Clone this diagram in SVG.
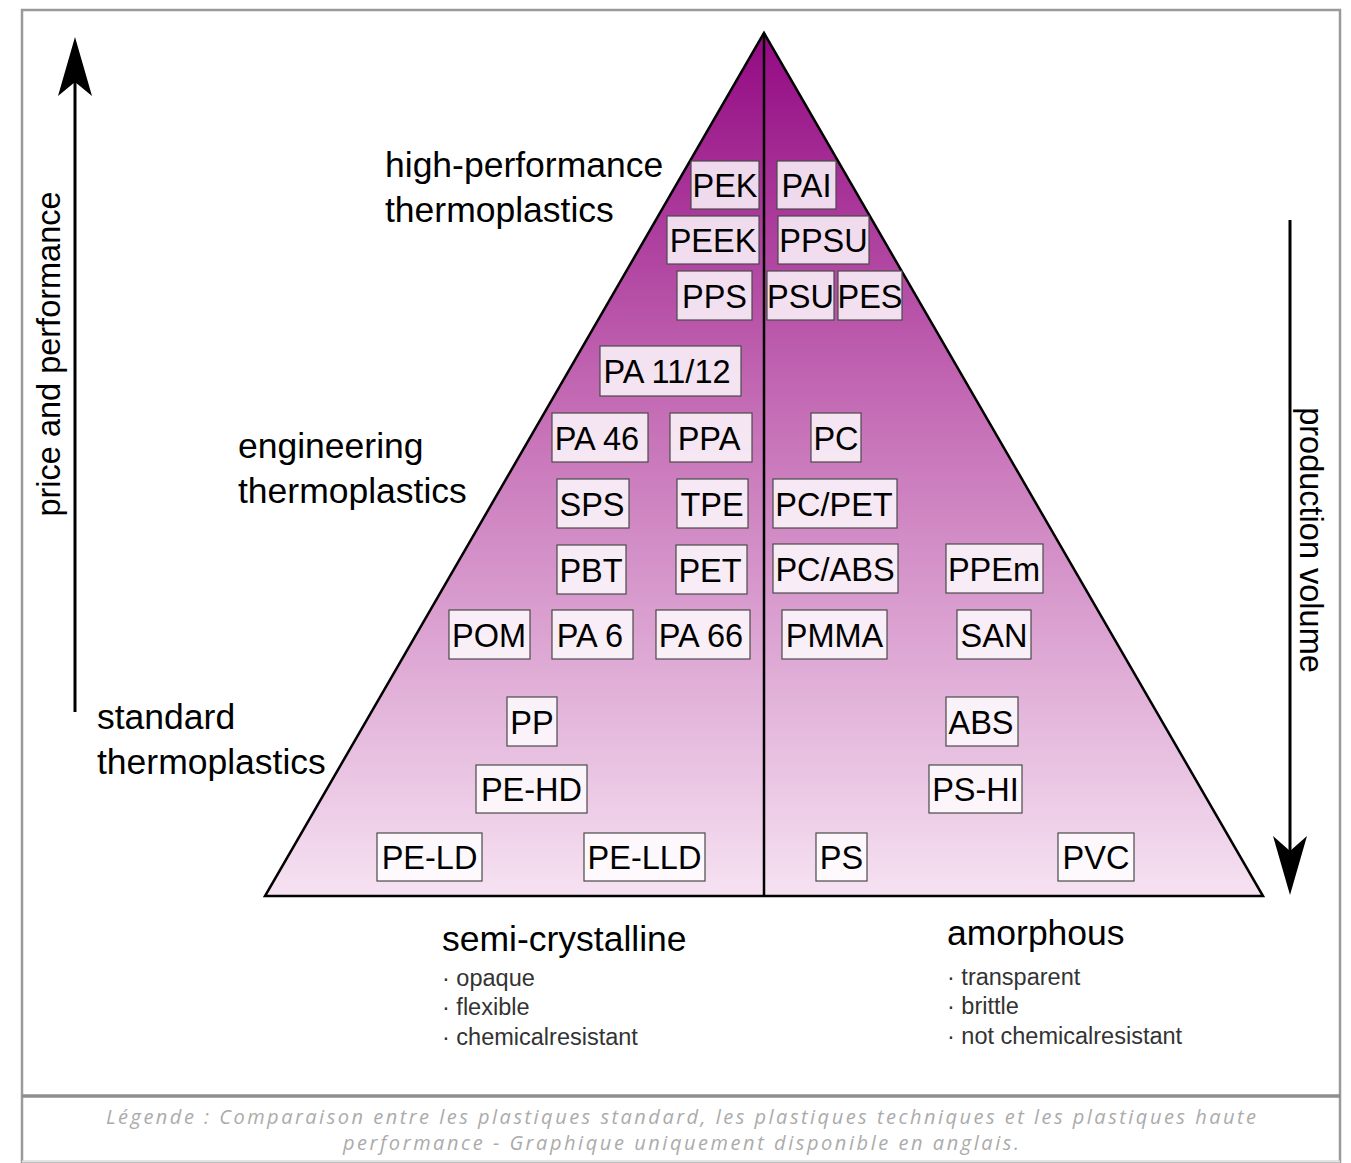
<svg xmlns="http://www.w3.org/2000/svg" width="1351" height="1163" viewBox="0 0 1351 1163">
<defs>
<linearGradient id="tri" x1="0" y1="33" x2="0" y2="896" gradientUnits="userSpaceOnUse">
<stop offset="0" stop-color="#930983"/>
<stop offset="0.45" stop-color="#c670b7"/>
<stop offset="1" stop-color="#f6e2f2"/>
</linearGradient>
<style>
.box rect{fill:#ffffff;fill-opacity:0.82;stroke:#4a4a4a;stroke-width:1.2}
.box text{font-family:"Liberation Sans",Arial,sans-serif;font-size:32.5px;fill:#000;text-anchor:middle}
.big{font-family:"Liberation Sans",Arial,sans-serif;font-size:35.5px;fill:#000}
.axis{font-family:"Liberation Sans",Arial,sans-serif;font-size:32.5px;fill:#000;text-anchor:middle}
.small{font-family:"Liberation Sans",Arial,sans-serif;font-size:23.5px;fill:#333}
.cap{font-family:"Open Sans","Liberation Sans",sans-serif;font-style:italic;font-size:20px;fill:#ababab;text-anchor:middle}
</style>
</defs>
<rect x="0" y="0" width="1351" height="1163" fill="#ffffff"/>
<g id="frame">
<rect x="22" y="10" width="1318" height="1152" fill="none" stroke="#9a9a9a" stroke-width="2.5"/>
<line x1="22" y1="1096" x2="1340" y2="1096" stroke="#8e8e8e" stroke-width="3.5"/>
<line x1="22" y1="1161.5" x2="1340" y2="1161.5" stroke="#e2e2e2" stroke-width="2"/>
</g>
<g id="pyramid">
<polygon points="764,33 265,896 1263,896" fill="url(#tri)" stroke="#000" stroke-width="2.5" stroke-linejoin="miter"/>
<line x1="764" y1="33" x2="764" y2="896" stroke="#000" stroke-width="2.5"/>
</g>
<g id="connectors">
<line x1="75" y1="712" x2="75" y2="80" stroke="#000" stroke-width="3"/>
<polygon points="75,37 92,96 75,82 58,96" fill="#000"/>
<line x1="1290" y1="220" x2="1290" y2="855" stroke="#000" stroke-width="3"/>
<polygon points="1290,895 1273,836 1290,851 1307,836" fill="#000"/>
</g>
<g id="axis-labels">
<text class="axis" transform="translate(60,354) rotate(-90)">price and performance</text>
<text class="axis" transform="translate(1300,540) rotate(90)">production volume</text>
</g>
<g id="tier-labels">
<text class="big" x="385" y="177">high-performance</text>
<text class="big" x="385" y="222">thermoplastics</text>
<text class="big" x="238" y="458">engineering</text>
<text class="big" x="238" y="503">thermoplastics</text>
<text class="big" x="97" y="729">standard</text>
<text class="big" x="97" y="774">thermoplastics</text>
</g>
<g id="semi-crystalline">
<text class="big" x="442" y="951">semi-crystalline</text>
<text class="small" x="442" y="986">· opaque</text>
<text class="small" x="442" y="1015">· flexible</text>
<text class="small" x="442" y="1045">· chemicalresistant</text>
</g>
<g id="amorphous">
<text class="big" x="947" y="945">amorphous</text>
<text class="small" x="947" y="985">· transparent</text>
<text class="small" x="947" y="1014">· brittle</text>
<text class="small" x="947" y="1044">· not chemicalresistant</text>
</g>
<g id="node-PEK" class="box"><rect x="691" y="161" width="68" height="48"/><text x="725" y="197">PEK</text></g>
<g id="node-PAI" class="box"><rect x="777" y="161" width="59" height="48"/><text x="806.5" y="197">PAI</text></g>
<g id="node-PEEK" class="box"><rect x="667" y="216" width="92" height="48"/><text x="713" y="252">PEEK</text></g>
<g id="node-PPSU" class="box"><rect x="778" y="216" width="91" height="48"/><text x="823.5" y="252">PPSU</text></g>
<g id="node-PPS" class="box"><rect x="677" y="271" width="75" height="49"/><text x="714.5" y="308">PPS</text></g>
<g id="node-PSU" class="box"><rect x="767" y="271" width="67" height="49"/><text x="800.5" y="308">PSU</text></g>
<g id="node-PES" class="box"><rect x="838" y="271" width="64" height="49"/><text x="870" y="308">PES</text></g>
<g id="node-PA1112" class="box"><rect x="600" y="346" width="141" height="50"/><text x="667" y="383">PA 11/12</text></g>
<g id="node-PA46" class="box"><rect x="552" y="413" width="96" height="49"/><text x="597" y="450">PA 46</text></g>
<g id="node-PPA" class="box"><rect x="670" y="413" width="82" height="49"/><text x="709" y="450">PPA</text></g>
<g id="node-PC" class="box"><rect x="811" y="413" width="50" height="49"/><text x="836" y="450">PC</text></g>
<g id="node-SPS" class="box"><rect x="557" y="479" width="72" height="49"/><text x="592" y="516">SPS</text></g>
<g id="node-TPE" class="box"><rect x="677" y="479" width="71" height="49"/><text x="712" y="516">TPE</text></g>
<g id="node-PCPET" class="box"><rect x="773" y="479" width="124" height="49"/><text x="834" y="516">PC/PET</text></g>
<g id="node-PBT" class="box"><rect x="557" y="545" width="69" height="49"/><text x="591" y="582">PBT</text></g>
<g id="node-PET" class="box"><rect x="676" y="545" width="71" height="49"/><text x="710" y="582">PET</text></g>
<g id="node-PCABS" class="box"><rect x="773" y="544" width="125" height="49"/><text x="835" y="581">PC/ABS</text></g>
<g id="node-PPEm" class="box"><rect x="946" y="544" width="97" height="49"/><text x="994" y="581">PPEm</text></g>
<g id="node-POM" class="box"><rect x="449" y="610" width="81" height="49"/><text x="489" y="647">POM</text></g>
<g id="node-PA6" class="box"><rect x="552" y="610" width="81" height="49"/><text x="590" y="647">PA 6</text></g>
<g id="node-PA66" class="box"><rect x="656" y="610" width="94" height="49"/><text x="701" y="647">PA 66</text></g>
<g id="node-PMMA" class="box"><rect x="782" y="610" width="105" height="49"/><text x="834.5" y="647">PMMA</text></g>
<g id="node-SAN" class="box"><rect x="957" y="610" width="74" height="49"/><text x="994" y="647">SAN</text></g>
<g id="node-PP" class="box"><rect x="507" y="697" width="50" height="49"/><text x="532" y="734">PP</text></g>
<g id="node-ABS" class="box"><rect x="946" y="697" width="72" height="49"/><text x="981" y="734">ABS</text></g>
<g id="node-PEHD" class="box"><rect x="476" y="765" width="111" height="48"/><text x="531.5" y="801">PE-HD</text></g>
<g id="node-PSHI" class="box"><rect x="929" y="765" width="93" height="48"/><text x="975.5" y="801">PS-HI</text></g>
<g id="node-PELD" class="box"><rect x="377" y="833" width="105" height="48"/><text x="429.5" y="869">PE-LD</text></g>
<g id="node-PELLD" class="box"><rect x="584" y="833" width="121" height="48"/><text x="644.5" y="869">PE-LLD</text></g>
<g id="node-PS" class="box"><rect x="816" y="833" width="51" height="48"/><text x="841.5" y="869">PS</text></g>
<g id="node-PVC" class="box"><rect x="1058" y="833" width="76" height="48"/><text x="1096" y="869">PVC</text></g>
<g id="caption">
<text class="cap" x="681" y="1124" textLength="1150" lengthAdjust="spacing">Légende : Comparaison entre les plastiques standard, les plastiques techniques et les plastiques haute</text>
<text class="cap" x="681" y="1150" textLength="676" lengthAdjust="spacing">performance - Graphique uniquement disponible en anglais.</text>
</g>
</svg>
